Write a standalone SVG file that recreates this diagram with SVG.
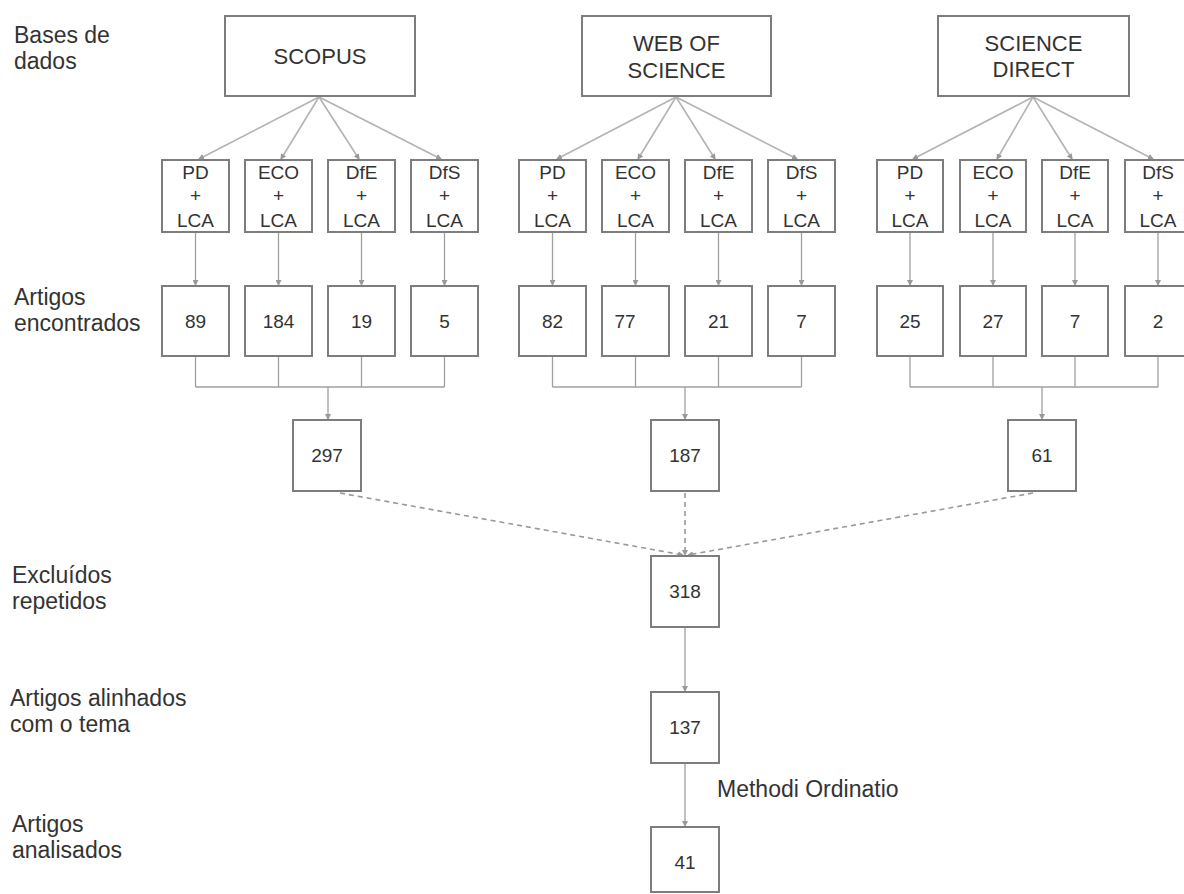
<svg xmlns="http://www.w3.org/2000/svg" width="1184" height="894" viewBox="0 0 1184 894">
<style>
.box{fill:#fff;stroke:#7d7d7d;stroke-width:2}
.t{font-family:"Liberation Sans",Arial,sans-serif;fill:#333;text-anchor:middle}
.big{font-size:22px}
.q{font-size:19px}
.n{font-size:19px}
.lbl{font-family:"Liberation Sans",Arial,sans-serif;fill:#333;font-size:23px}
.fan{stroke:#b3b3b3;stroke-width:1.6;fill:none}
.ln{stroke:#a0a0a0;stroke-width:1.3;fill:none}
.dash{stroke:#999;stroke-width:1.6;fill:none;stroke-dasharray:5 4}
</style>
<defs>
<marker id="ah" markerWidth="6" markerHeight="6" refX="5" refY="3" orient="auto" markerUnits="userSpaceOnUse">
<path d="M0,0 L6,3 L0,6 z" fill="#999"/>
</marker>
</defs>
<rect width="1184" height="894" fill="#fff"/>

<g id="labels">
<text class="lbl" x="14" y="43">Bases de</text>
<text class="lbl" x="14" y="69">dados</text>
<text class="lbl" x="14" y="305">Artigos</text>
<text class="lbl" x="14" y="331">encontrados</text>
<text class="lbl" x="12" y="583">Excluídos</text>
<text class="lbl" x="12" y="609">repetidos</text>
<text class="lbl" x="10" y="706">Artigos alinhados</text>
<text class="lbl" x="10" y="732">com o tema</text>
<text class="lbl" x="12" y="832">Artigos</text>
<text class="lbl" x="12" y="858">analisados</text>
<text class="lbl" x="717" y="797">Methodi Ordinatio</text>
</g>

<g id="connectors">
<line class="fan" x1="319" y1="97" x2="199" y2="159" marker-end="url(#ah)"/>
<line class="fan" x1="319" y1="97" x2="281" y2="159" marker-end="url(#ah)"/>
<line class="fan" x1="319" y1="97" x2="359" y2="159" marker-end="url(#ah)"/>
<line class="fan" x1="319" y1="97" x2="441" y2="159" marker-end="url(#ah)"/>
<line class="fan" x1="676" y1="97" x2="557" y2="159" marker-end="url(#ah)"/>
<line class="fan" x1="676" y1="97" x2="638" y2="159" marker-end="url(#ah)"/>
<line class="fan" x1="676" y1="97" x2="715" y2="159" marker-end="url(#ah)"/>
<line class="fan" x1="676" y1="97" x2="797" y2="159" marker-end="url(#ah)"/>
<line class="fan" x1="1033" y1="97" x2="913" y2="159" marker-end="url(#ah)"/>
<line class="fan" x1="1033" y1="97" x2="997" y2="159" marker-end="url(#ah)"/>
<line class="fan" x1="1033" y1="97" x2="1072" y2="159" marker-end="url(#ah)"/>
<line class="fan" x1="1033" y1="97" x2="1153" y2="159" marker-end="url(#ah)"/>
<g class="ln" marker-end="url(#ah)">
<line x1="195.5" y1="233" x2="195.5" y2="285"/>
<line x1="278.5" y1="233" x2="278.5" y2="285"/>
<line x1="361.5" y1="233" x2="361.5" y2="285"/>
<line x1="444.5" y1="233" x2="444.5" y2="285"/>
<line x1="552.5" y1="233" x2="552.5" y2="285"/>
<line x1="635.5" y1="233" x2="635.5" y2="285"/>
<line x1="718.5" y1="233" x2="718.5" y2="285"/>
<line x1="801.5" y1="233" x2="801.5" y2="285"/>
<line x1="910" y1="233" x2="910" y2="285"/>
<line x1="993" y1="233" x2="993" y2="285"/>
<line x1="1075" y1="233" x2="1075" y2="285"/>
<line x1="1158" y1="233" x2="1158" y2="285"/>
</g>
<path class="ln" d="M195.5,357 V387 M278.5,357 V387 M361.5,357 V387 M444.5,357 V387 M195.5,387 H444.5"/>
<path class="ln" d="M552.5,357 V387 M635.5,357 V387 M718.5,357 V387 M801.5,357 V387 M552.5,387 H801.5"/>
<path class="ln" d="M910,357 V387 M993,357 V387 M1075,357 V387 M1158,357 V387 M910,387 H1158"/>
<line class="ln" x1="328" y1="387" x2="328" y2="419" marker-end="url(#ah)"/>
<line class="ln" x1="685" y1="387" x2="685" y2="419" marker-end="url(#ah)"/>
<line class="ln" x1="1042" y1="387" x2="1042" y2="419" marker-end="url(#ah)"/>
<line class="dash" x1="340" y1="493" x2="683" y2="555" marker-end="url(#ah)"/>
<line class="dash" x1="685" y1="493" x2="685" y2="555" marker-end="url(#ah)"/>
<line class="dash" x1="1033" y1="493" x2="688" y2="555" marker-end="url(#ah)"/>
<line class="ln" x1="685" y1="628" x2="685" y2="691" marker-end="url(#ah)"/>
<line class="ln" x1="685" y1="764" x2="685" y2="826" marker-end="url(#ah)"/>
</g>

<g id="scopus"><rect class="box" x="225" y="16" width="190" height="80"/><text class="t big" x="320" y="64">SCOPUS</text></g>
<g id="wos"><rect class="box" x="582" y="16" width="189" height="80"/><text class="t big" x="676.5" y="51">WEB OF</text><text class="t big" x="676.5" y="78">SCIENCE</text></g>
<g id="sd"><rect class="box" x="938" y="16" width="191" height="80"/><text class="t big" x="1033.5" y="51">SCIENCE</text><text class="t big" x="1033.5" y="77">DIRECT</text></g>

<g id="q-s-pd"><rect class="box" x="162" y="160" width="67" height="72"/><text class="t q" x="195.5" y="179">PD</text><text class="t q" x="195.5" y="202">+</text><text class="t q" x="195.5" y="227">LCA</text></g>
<g id="q-s-eco"><rect class="box" x="245" y="160" width="67" height="72"/><text class="t q" x="278.5" y="179">ECO</text><text class="t q" x="278.5" y="202">+</text><text class="t q" x="278.5" y="227">LCA</text></g>
<g id="q-s-dfe"><rect class="box" x="328" y="160" width="67" height="72"/><text class="t q" x="361.5" y="179">DfE</text><text class="t q" x="361.5" y="202">+</text><text class="t q" x="361.5" y="227">LCA</text></g>
<g id="q-s-dfs"><rect class="box" x="411" y="160" width="67" height="72"/><text class="t q" x="444.5" y="179">DfS</text><text class="t q" x="444.5" y="202">+</text><text class="t q" x="444.5" y="227">LCA</text></g>

<g id="q-w-pd"><rect class="box" x="519" y="160" width="67" height="72"/><text class="t q" x="552.5" y="179">PD</text><text class="t q" x="552.5" y="202">+</text><text class="t q" x="552.5" y="227">LCA</text></g>
<g id="q-w-eco"><rect class="box" x="602" y="160" width="67" height="72"/><text class="t q" x="635.5" y="179">ECO</text><text class="t q" x="635.5" y="202">+</text><text class="t q" x="635.5" y="227">LCA</text></g>
<g id="q-w-dfe"><rect class="box" x="685" y="160" width="67" height="72"/><text class="t q" x="718.5" y="179">DfE</text><text class="t q" x="718.5" y="202">+</text><text class="t q" x="718.5" y="227">LCA</text></g>
<g id="q-w-dfs"><rect class="box" x="768" y="160" width="67" height="72"/><text class="t q" x="801.5" y="179">DfS</text><text class="t q" x="801.5" y="202">+</text><text class="t q" x="801.5" y="227">LCA</text></g>

<g id="q-d-pd"><rect class="box" x="877" y="160" width="66" height="72"/><text class="t q" x="910" y="179">PD</text><text class="t q" x="910" y="202">+</text><text class="t q" x="910" y="227">LCA</text></g>
<g id="q-d-eco"><rect class="box" x="960" y="160" width="66" height="72"/><text class="t q" x="993" y="179">ECO</text><text class="t q" x="993" y="202">+</text><text class="t q" x="993" y="227">LCA</text></g>
<g id="q-d-dfe"><rect class="box" x="1042" y="160" width="66" height="72"/><text class="t q" x="1075" y="179">DfE</text><text class="t q" x="1075" y="202">+</text><text class="t q" x="1075" y="227">LCA</text></g>
<g id="q-d-dfs"><rect class="box" x="1125" y="160" width="66" height="72"/><text class="t q" x="1158" y="179">DfS</text><text class="t q" x="1158" y="202">+</text><text class="t q" x="1158" y="227">LCA</text></g>

<g id="c-s-1"><rect class="box" x="162" y="286" width="67" height="70"/><text class="t n" x="195.5" y="328">89</text></g>
<g id="c-s-2"><rect class="box" x="245" y="286" width="67" height="70"/><text class="t n" x="278.5" y="328">184</text></g>
<g id="c-s-3"><rect class="box" x="328" y="286" width="67" height="70"/><text class="t n" x="361.5" y="328">19</text></g>
<g id="c-s-4"><rect class="box" x="411" y="286" width="67" height="70"/><text class="t n" x="444.5" y="328">5</text></g>
<g id="c-w-1"><rect class="box" x="519" y="286" width="67" height="70"/><text class="t n" x="552.5" y="328">82</text></g>
<g id="c-w-2"><rect class="box" x="602" y="286" width="67" height="70"/><text class="t n" x="625" y="328">77</text></g>
<g id="c-w-3"><rect class="box" x="685" y="286" width="67" height="70"/><text class="t n" x="718.5" y="328">21</text></g>
<g id="c-w-4"><rect class="box" x="768" y="286" width="67" height="70"/><text class="t n" x="801.5" y="328">7</text></g>
<g id="c-d-1"><rect class="box" x="877" y="286" width="66" height="70"/><text class="t n" x="910" y="328">25</text></g>
<g id="c-d-2"><rect class="box" x="960" y="286" width="66" height="70"/><text class="t n" x="993" y="328">27</text></g>
<g id="c-d-3"><rect class="box" x="1042" y="286" width="66" height="70"/><text class="t n" x="1075" y="328">7</text></g>
<g id="c-d-4"><rect class="box" x="1125" y="286" width="66" height="70"/><text class="t n" x="1158" y="328">2</text></g>

<g id="t-scopus"><rect class="box" x="293" y="420" width="68" height="71"/><text class="t n" x="327" y="462">297</text></g>
<g id="t-wos"><rect class="box" x="651" y="420" width="68" height="71"/><text class="t n" x="685" y="462">187</text></g>
<g id="t-sd"><rect class="box" x="1008" y="420" width="68" height="71"/><text class="t n" x="1042" y="462">61</text></g>

<g id="n318"><rect class="box" x="651" y="556" width="68" height="71"/><text class="t n" x="685" y="598">318</text></g>
<g id="n137"><rect class="box" x="651" y="692" width="68" height="71"/><text class="t n" x="685" y="734">137</text></g>
<g id="n41"><rect class="box" x="651" y="827" width="68" height="65"/><text class="t n" x="685" y="869">41</text></g>
</svg>
